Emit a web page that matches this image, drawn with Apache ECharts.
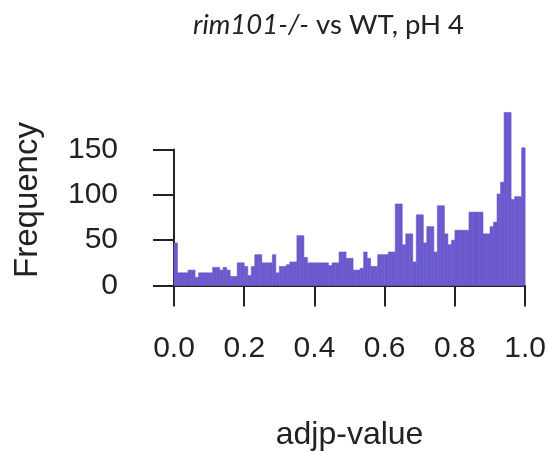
<!DOCTYPE html>
<html>
<head>
<meta charset="utf-8">
<script src="https://cdn.jsdelivr.net/npm/echarts@6/dist/echarts.min.js"></script>
<style>html,body{margin:0;padding:0;background:#fff}#c{width:549px;height:452px}</style>
</head>
<body>
<div id="c"></div>
<script>
// Histogram of adjusted p-values, 100 bins of width 0.01 on [0, 1]
var binWidth = 0.01;
var counts = [
  47, 14, 14, 14, 17, 17, 9, 14, 14, 14,
  14, 20, 20, 17, 20, 17, 10, 10, 25, 25,
  21, 11, 21, 34, 34, 25, 25, 25, 34, 14,
  21, 21, 23, 26, 26, 55, 55, 31, 25, 25,
  25, 25, 25, 25, 22, 25, 25, 37, 37, 30,
  30, 17, 17, 19, 37, 30, 21, 21, 34, 34,
  34, 37, 37, 90, 90, 45, 57, 57, 26, 78,
  78, 47, 65, 65, 37, 88, 88, 57, 45, 50,
  61, 61, 61, 61, 81, 81, 81, 81, 57, 57,
  65, 70, 101, 114, 191, 191, 95, 98, 98, 152
];
var xTicks = [0, 0.2, 0.4, 0.6, 0.8, 1.0];
var yTicks = [0, 50, 100, 150];
var titleItalic = 'rim101-/-';
var titleRest = ' vs WT, pH 4';
var xName = 'adjp-value';
var yName = 'Frequency';

var histData = counts.map(function (c, i) {
  return [i * binWidth, (i + 1) * binWidth, c];
});

var chart = echarts.init(document.getElementById('c'), null, {renderer: 'canvas'});
var axisColor = '#222';
var font = '"Liberation Sans", Arial, sans-serif';
chart.setOption({
  animation: false,
  backgroundColor: '#fff',
  title: {
    text: '{i|' + titleItalic + '}' + titleRest,
    left: 188,
    top: 6,
    textStyle: {
      fontFamily: 'Lato, "Open Sans", sans-serif',
      fontSize: 27.5,
      fontWeight: 'normal',
      color: '#222',
      rich: {
        i: {fontStyle: 'italic', fontFamily: 'Lato, "Open Sans", sans-serif', fontSize: 27.5, color: '#222'}
      }
    }
  },
  graphic: [{
    type: 'text',
    x: 28,
    y: 200,
    rotation: Math.PI / 2,
    style: {
      text: yName,
      fontFamily: font,
      fontSize: 33,
      fill: axisColor,
      textAlign: 'center',
      textVerticalAlign: 'middle'
    }
  }],
  grid: {left: 174, right: 22, top: 149.6, bottom: 166, containLabel: false},
  xAxis: {
    type: 'value',
    min: xTicks[0],
    max: xTicks[xTicks.length - 1],
    interval: 0.2,
    offset: 7.5,
    name: xName,
    nameLocation: 'middle',
    nameGap: 126,
    nameTextStyle: {fontFamily: font, fontSize: 32, color: axisColor},
    axisLine: {show: true, lineStyle: {color: axisColor, width: 2}},
    axisTick: {show: true, length: 21, lineStyle: {color: axisColor, width: 2}},
    axisLabel: {
      margin: 41, fontFamily: font, fontSize: 30, color: axisColor,
      formatter: function (v) { return v.toFixed(1); }
    },
    splitLine: {show: false}
  },
  yAxis: {
    type: 'value',
    min: yTicks[0],
    max: yTicks[yTicks.length - 1],
    interval: 50,
    offset: 14,
    axisLine: {show: true, lineStyle: {color: axisColor, width: 2}},
    axisTick: {show: true, length: 21, lineStyle: {color: axisColor, width: 2}},
    axisLabel: {margin: 42, fontFamily: font, fontSize: 30, color: axisColor},
    splitLine: {show: false}
  },
  series: [{
    type: 'custom',
    clip: false,
    data: histData,
    encode: {x: [0, 1], y: 2},
    renderItem: function (params, api) {
      var p0 = api.coord([api.value(0), 0]);
      var p1 = api.coord([api.value(1), api.value(2)]);
      return {
        type: 'rect',
        shape: {x: p0[0], y: p1[1], width: p1[0] - p0[0], height: p0[1] - p1[1]},
        style: {fill: '#6a5acd', stroke: '#6a5acd', lineWidth: 0.6}
      };
    }
  }]
});
</script>
</body>
</html>
